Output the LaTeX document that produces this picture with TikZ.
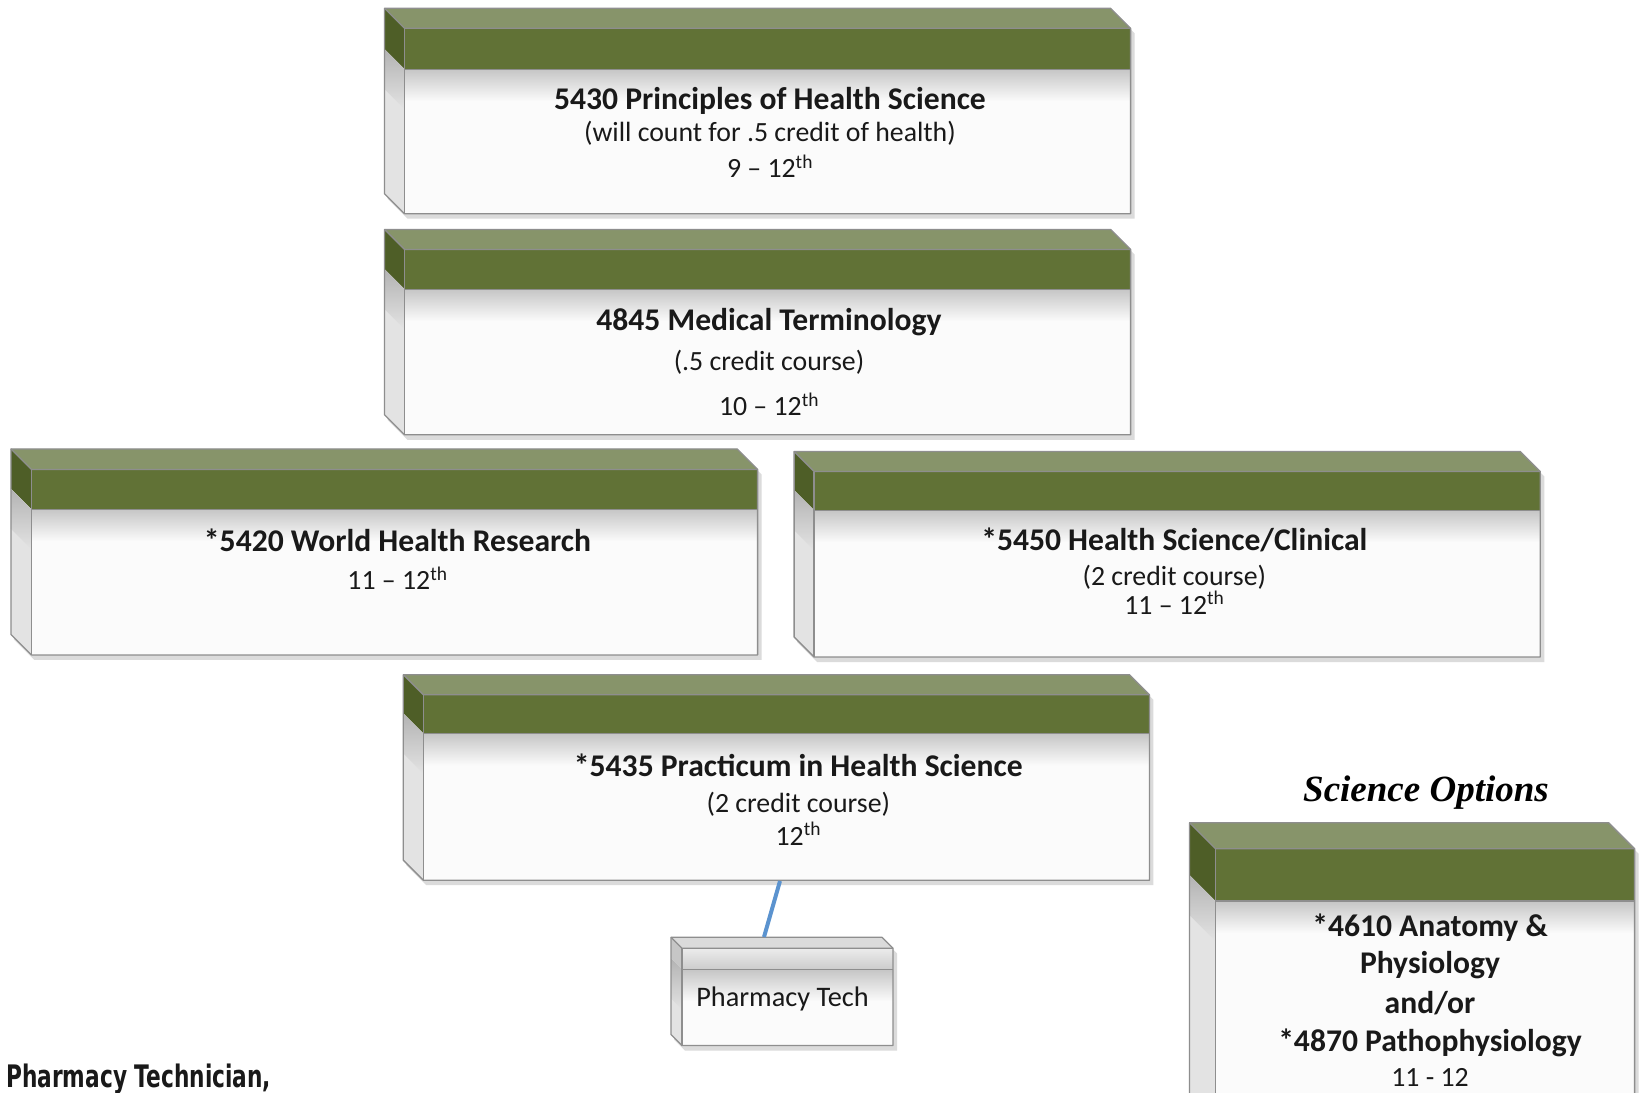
\documentclass[tikz,border=0pt]{standalone}
\usepackage{fontspec}
\setmainfont{Carlito}
\newfontfamily\condfont{DejaVu Sans}
\newfontfamily\scifont{Liberation Serif}
\usetikzlibrary{calc}
\definecolor{gtop}{HTML}{87946A}
\definecolor{gfront}{HTML}{617236}
\definecolor{gside}{HTML}{4E5E27}
\definecolor{edgec}{HTML}{8E8E8E}
\definecolor{conn}{HTML}{5B93CF}
\tikzset{
  cubetop/.style={fill=gtop},
  cubeband/.style={fill=gfront},
  cubeside/.style={fill=gside},
  edgeline/.style={draw=edgec,line width=1.3pt,line join=round},
  ttl/.style={font=\fontsize{31.6}{36}\selectfont\bfseries,anchor=base,inner sep=0pt,text=black!90},
  sub/.style={font=\fontsize{27.8}{32}\selectfont,anchor=base,inner sep=0pt,text=black!90},
}
\newcommand\cubebox[8][]{%
\begin{scope}[#1]
\pgfmathsetmacro\xa{#3}\pgfmathsetmacro\ya{#4}\pgfmathsetmacro\xb{#5}%
\pgfmathsetmacro\yb{#6}\pgfmathsetmacro\yc{#7}\pgfmathsetmacro\dd{#8}%
\fill[black!14] (\xa-\dd+3,\ya-\dd+5) -- (\xb-\dd+4,\ya-\dd+5) -- (\xb+4,\ya+5) -- (\xb+4,\yb+5) -- (\xa+3,\yb+5) -- (\xa-\dd+3,\yb-\dd+5) -- cycle;
\path[cubetop] (\xa-\dd,\ya-\dd) -- (\xb-\dd,\ya-\dd) -- (\xb,\ya) -- (\xa,\ya) -- cycle;
\path[cubeside] (\xa-\dd,\ya-\dd) -- (\xa,\ya) -- (\xa,\yc) -- (\xa-\dd,\yc-\dd) -- cycle;
\fill[gray!22] (\xa-\dd,\yc-\dd) -- (\xa,\yc) -- (\xa,\yb) -- (\xa-\dd,\yb-\dd) -- cycle;
\shade[top color=gray!60,bottom color=gray!22] (\xa-\dd,\yc-\dd) -- (\xa,\yc) -- (\xa,\yc+40) -- (\xa-\dd,\yc+40-\dd) -- cycle;
\path[cubeband] (\xa,\ya) rectangle (\xb,\yc);
\fill[gray!3] (\xa,\yc) rectangle (\xb,\yb);
\shade[top color=gray!45,bottom color=gray!3] (\xa,\yc) rectangle (\xb,\yc+32);
\node[inner sep=0pt,minimum width={\xb-\xa},minimum height={\yb-\ya}] (#2) at ({(\xa+\xb)/2},{(\ya+\yb)/2}) {};
\draw[edgeline] (\xa-\dd,\ya-\dd) -- (\xb-\dd,\ya-\dd) -- (\xb,\ya) -- (\xb,\yb) -- (\xa,\yb) -- (\xa-\dd,\yb-\dd) -- cycle;
\draw[edgeline] (\xa-\dd,\ya-\dd) -- (\xa,\ya) -- (\xb,\ya);
\draw[edgeline] (\xa,\ya) -- (\xa,\yb);
\draw[edgeline] (\xa,\yc) -- (\xb,\yc);
\end{scope}}
\begin{document}
\begin{tikzpicture}[x=1pt,y=-1pt]
\clip (0,0) rectangle (1643,1092);
\fill[white] (0,0) rectangle (1643,1092);

\cubebox{b1}{404.5}{28.3}{1130.6}{213.7}{69.2}{20}
\cubebox{b2}{404.5}{249.4}{1130.6}{434.8}{289.2}{20}
\cubebox{b3}{31.4}{469.4}{757.6}{654.9}{509.2}{20.5}
\cubebox{b4}{814.1}{471.5}{1540.3}{657}{510.3}{20}
\cubebox{b5}{423.3}{694.7}{1149.4}{880.2}{733.5}{20}
\cubebox{sci}{1215.5}{848.7}{1634.6}{1140}{901.1}{26}
\cubebox[cubetop/.style={fill=gray!28},cubeside/.style={fill=gray!45},
  cubeband/.style={top color=gray!15,bottom color=gray!40}]{pt}{682}{948.3}{893}{1045.5}{969.3}{11}

% texts box 1
\node[ttl] (b1t) at (770,109.3) {5430 Principles of Health Science};
\node[sub] (b1s) at (770,141.7) {(will count for .5 credit of health)};
\node[sub] (b1g) at (770,177.3) {9 – 12\textsuperscript{th}};
% box 2
\node[ttl] (b2t) at (769,330) {4845 Medical Terminology};
\node[sub] (b2s) at (769,370) {(.5 credit course)};
\node[sub] (b2g) at (769,415.7) {10 – 12\textsuperscript{th}};
% box 3
\node[ttl] (b3t) at (397.5,551.5) {*5420 World Health Research};
\node[sub] (b3g) at (397.5,589.5) {11 – 12\textsuperscript{th}};
% box 4
\node[ttl] (b4t) at (1174.3,550) {*5450 Health Science/Clinical};
\node[sub] (b4s) at (1174.3,585) {(2 credit course)};
\node[sub] (b4g) at (1174.3,614) {11 – 12\textsuperscript{th}};
% box 5
\node[ttl] (b5t) at (798.3,776.7) {*5435 Practicum in Health Science};
\node[sub] (b5s) at (798.3,812.7) {(2 credit course)};
\node[sub] (b5g) at (798.3,845) {12\textsuperscript{th}};
% science
\node[font=\fontsize{37}{42}\scifont\bfseries\itshape,anchor=base,inner sep=0pt] (scit) at (1426,801.7) {Science Options};
\node[ttl] (s1) at (1430,936.7) {*4610 Anatomy \&};
\node[ttl] (s2) at (1430,973.3) {Physiology};
\node[ttl] (s3) at (1430,1013.3) {and/or};
\node[ttl] (s4) at (1430,1051.7) {*4870 Pathophysiology};
\node[sub] (s5) at (1430,1086.7) {11 - 12};
% pharmacy tech
\node[sub,font=\fontsize{28.3}{32}\selectfont] (ptt) at (782.5,1006) {Pharmacy Tech};
\coordinate (c1) at (780,881);
\coordinate (c2) at (764,937);
\draw[conn,line width=4pt] (c1) -- (c2);
% bottom label
\node[anchor=base west,inner sep=0pt,font=\fontsize{31}{34}\condfont\bfseries,text=black!90] (phl) at (6,1087) {\scalebox{0.7}[1]{Pharmacy Technician,}};
\end{tikzpicture}
\end{document}
